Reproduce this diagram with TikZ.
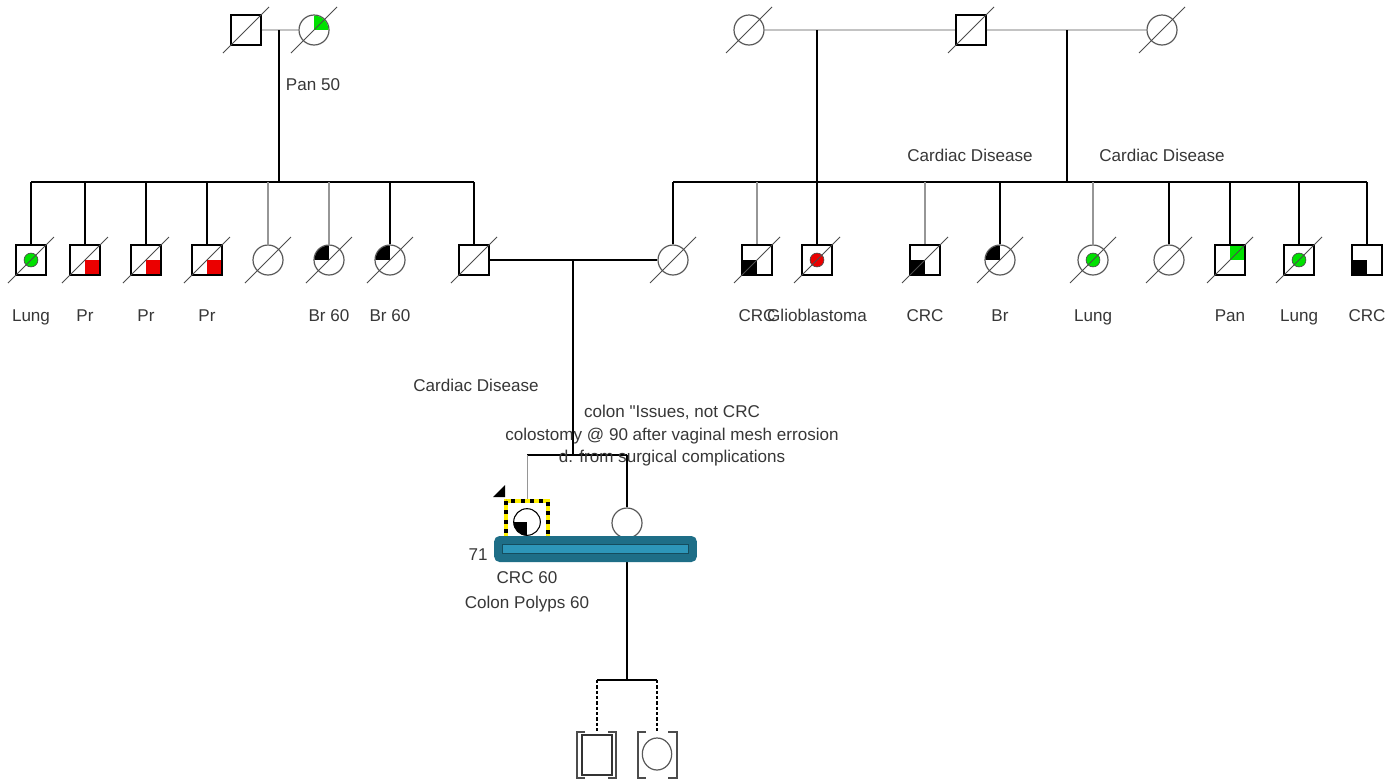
\documentclass[tikz,border=0pt]{standalone}
\usepackage{fontspec}
\setmainfont{Liberation Sans}
\usetikzlibrary{calc,shapes.geometric}
\definecolor{txt}{RGB}{55,55,55}
\definecolor{lgray}{RGB}{195,195,195}
\definecolor{mgray}{RGB}{150,150,150}
\definecolor{pgreen}{RGB}{0,225,0}
\definecolor{pred}{RGB}{235,0,0}
\definecolor{barout}{RGB}{30,110,135}
\definecolor{barin}{RGB}{45,150,185}
\definecolor{pyellow}{RGB}{255,240,0}
\newcommand\pdead[1]{\draw[slash] ($(#1)+(-23,23)$) -- ($(#1)+(23,-23)$);}
\newcommand\pdot[2]{\fill[#2, draw=black!70, line width=0.5pt] (#1) circle[radius=5.2pt];}
\newcommand\sqq[3]{\fill[#3] (#1.center) rectangle ($(#1)+#2$);}
\newcommand\cq[3]{\begin{scope}\clip (#1) circle[radius=10.8pt];\fill[#3] (#1.center) rectangle ($(#1)+#2$);\end{scope}}
\newcommand\straightquote{\XeTeXglyph\XeTeXcharglyph"0022\relax}
\begin{document}
\begin{tikzpicture}[x=0.75pt,y=-0.75pt,
  male/.style={draw=black, line width=0.9pt, fill=white, rectangle, minimum size=22.5pt, inner sep=0pt},
  female/.style={draw=black!65, line width=0.9pt, fill=white, circle, minimum size=22.5pt, inner sep=0pt},
  lbl/.style={text=txt, font=\fontsize{12.8}{17}\selectfont, inner sep=0pt, anchor=base},
  ln/.style={line width=0.9pt, black},
  gln/.style={line width=1.5pt, lgray},
  gdrop/.style={line width=0.9pt, mgray},
  slash/.style={line width=0.7pt, black!70},
  dsh/.style={line width=0.9pt, black, dash pattern=on 2.5pt off 1.5pt},
  brk/.style={line width=1.6pt, black!70}]
\useasboundingbox (0,0) rectangle (1398,779);
\fill[white] (0,0) rectangle (1398,779);

% generation I
\node[male] (A1) at (246,30) {};
\node[female] (A2) at (314,30) {};
\node[female] (B1) at (749,30) {};
\node[male] (B2) at (971,30) {};
\node[female] (B3) at (1162,30) {};
\coordinate (mA) at (279,30);
\coordinate (sA) at (279,182);
\coordinate (mB1) at (817,30);
\coordinate (sB1) at (817,182);
\coordinate (mB2) at (1067,30);
\coordinate (sB2) at (1067,182);

% generation II
\node[male] (L1) at (31,260) {};
\node[male] (L2) at (85,260) {};
\node[male] (L3) at (146,260) {};
\node[male] (L4) at (207,260) {};
\node[female] (L5) at (268,260) {};
\node[female] (L6) at (329,260) {};
\node[female] (L7) at (390,260) {};
\node[male] (F) at (474,260) {};
\node[female] (M) at (673,260) {};
\node[male] (R1) at (757,260) {};
\node[male] (R2) at (817,260) {};
\node[male] (R3) at (925,260) {};
\node[female] (R4) at (1000,260) {};
\node[female] (R5) at (1093,260) {};
\node[female] (R6) at (1169,260) {};
\node[male] (R7) at (1230,260) {};
\node[male] (R8) at (1299,260) {};
\node[male] (R9) at (1367,260) {};

% generation III
\node[minimum size=33pt, inner sep=0pt] (P) at (527,522) {};
\node[female] (S) at (627,523) {};
\coordinate (mC) at (573,260);
\coordinate (sC) at (573,455);
\coordinate (kA) at (627,680);
\node[draw=black!80, line width=0.9pt, minimum width=22.5pt, minimum height=30pt, inner sep=0pt] (K1) at (597,755) {};
\node[draw=black!65, line width=0.9pt, ellipse, minimum width=22pt, minimum height=24pt, inner sep=0pt] (K2) at (657,754) {};

% connectors
\draw[gln] (A1) -- (A2);
\draw[gln] (B1) -- (B2);
\draw[gln] (B2) -- (B3);
\draw[ln] (mA) -- (sA);
\draw[ln] (mB1) -- (sB1);
\draw[ln] (mB2) -- (sB2);
\draw[ln] (L1 |- sA) -- (F |- sA);
\draw[ln] (M |- sA) -- (R9 |- sA);
\foreach \n in {L1,L2,L3,L4,L7,F,M,R2,R4,R6,R7,R8,R9} \draw[ln] (\n |- sA) -- (\n);
\foreach \n in {L5,L6,R1,R3,R5} \draw[gdrop] (\n |- sA) -- (\n);
\draw[ln] (F) -- (M);
\draw[ln] (mC) -- (sC);
\draw[ln] (P |- sC) -- (S |- sC);
\draw[gdrop, line width=0.7pt] (P |- sC) -- (P);
\draw[ln] (S |- sC) -- (S);
\draw[ln] (S) -- (kA);
\draw[ln] (K1 |- kA) -- (K2 |- kA);
\draw[dsh] (K1 |- kA) -- ($(K1)+(0,-23)$);
\draw[dsh] (K2 |- kA) -- ($(K2)+(0,-22)$);

% brackets
\draw[brk] ($(K1)+(-12,-23)$) -- ($(K1)+(-20,-23)$) -- ($(K1)+(-20,23)$) -- ($(K1)+(-12,23)$);
\draw[brk] ($(K1)+(11,-23)$) -- ($(K1)+(19,-23)$) -- ($(K1)+(19,23)$) -- ($(K1)+(11,23)$);
\draw[brk] ($(K2)+(-11,-22)$) -- ($(K2)+(-19,-22)$) -- ($(K2)+(-19,24)$) -- ($(K2)+(-11,24)$);
\draw[brk] ($(K2)+(11,-22)$) -- ($(K2)+(20,-22)$) -- ($(K2)+(20,24)$) -- ($(K2)+(11,24)$);

% affection markings
\cq{A2}{(20,-20)}{pgreen}
\pdot{L1}{pgreen}
\sqq{L2}{(14.4,14.4)}{pred}
\sqq{L3}{(14.4,14.4)}{pred}
\sqq{L4}{(14.4,14.4)}{pred}
\cq{L6}{(-20,-20)}{black}
\cq{L7}{(-20,-20)}{black}
\sqq{R1}{(-14.4,14.4)}{black}
\pdot{R2}{pred}
\sqq{R3}{(-14.4,14.4)}{black}
\cq{R4}{(-20,-20)}{black}
\pdot{R5}{pgreen}
\sqq{R7}{(14.4,-14.4)}{pgreen}
\pdot{R8}{pgreen}
\sqq{R9}{(-14.4,14.4)}{black}

% deceased
\foreach \n in {A1,A2,B1,B2,B3,L1,L2,L3,L4,L5,L6,L7,F,M,R1,R2,R3,R4,R5,R6,R7,R8} {\pdead{\n}}

% proband
\draw[line width=3pt, pyellow] ($(P)+(-21,-21)$) rectangle ($(P)+(21,21)$);
\draw[line width=3pt, black, dash pattern=on 3pt off 4pt] ($(P)+(-21,-21)$) rectangle ($(P)+(21,21)$);
\filldraw[fill=white, draw=black, line width=0.8pt] (P) circle[radius=10pt];
\begin{scope}\clip (P) circle[radius=10pt]; \fill[black] (P.center) rectangle ++(-20,20);\end{scope}
\fill[black] ($(P)+(-34,-25)$) -- ($(P)+(-22,-37)$) -- ($(P)+(-22,-25)$) -- cycle;

% highlight bar
\node[fill=barout, rounded corners=4pt, minimum width=152pt, minimum height=19.5pt, inner sep=0pt] (bar) at (595.5,549) {};
\draw[fill=barin, draw=barout!70!black, line width=0.6pt] ($(bar)+(-93,-5)$) rectangle ($(bar)+(93,4)$);

% labels
\node[lbl] (tA2) at (313,90) {Pan 50};
\node[lbl] (tB2) at (970,161) {Cardiac Disease};
\node[lbl] (tB3) at (1162,161) {Cardiac Disease};
\node[lbl] (tF) at (476,391) {Cardiac Disease};
\node[lbl] (tM1) at (672,417) {colon \straightquote Issues, not CRC};
\node[lbl] (tM2) at (672,440) {colostomy @ 90 after vaginal mesh errosion};
\node[lbl] (tM3) at (672,462) {d. from surgical complications};
\node[lbl] (t1) at (31,321) {Lung};
\node[lbl] (t2) at (85,321) {Pr};
\node[lbl] (t3) at (146,321) {Pr};
\node[lbl] (t4) at (207,321) {Pr};
\node[lbl] (t6) at (329,321) {Br 60};
\node[lbl] (t7) at (390,321) {Br 60};
\node[lbl] (r1) at (757,321) {CRC};
\node[lbl] (r2) at (817,321) {Glioblastoma};
\node[lbl] (r3) at (925,321) {CRC};
\node[lbl] (r4) at (1000,321) {Br};
\node[lbl] (r5) at (1093,321) {Lung};
\node[lbl] (r7) at (1230,321) {Pan};
\node[lbl] (r8) at (1299,321) {Lung};
\node[lbl] (r9) at (1367,321) {CRC};
\node[lbl] (tP0) at (478,560) {71};
\node[lbl] (tP1) at (527,583) {CRC 60};
\node[lbl] (tP2) at (527,608) {Colon Polyps 60};
\end{tikzpicture}
\end{document}
